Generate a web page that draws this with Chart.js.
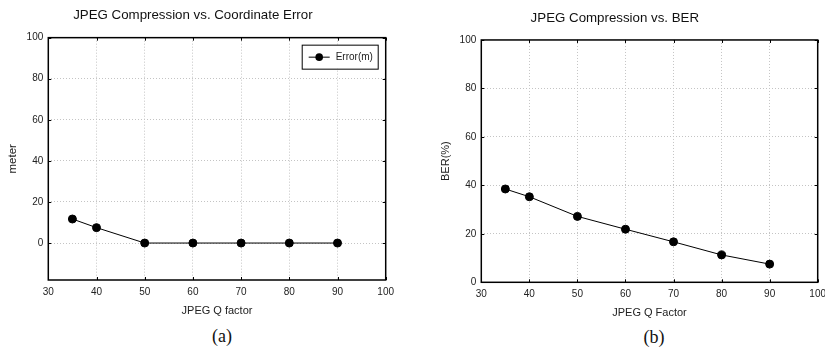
<!DOCTYPE html>
<html>
<head>
<meta charset="utf-8">
<script src="https://cdn.jsdelivr.net/npm/chart.js@4.4.1/dist/chart.umd.min.js"></script>
<style>
  html, body { margin: 0; padding: 0; background: #fff; overflow: hidden; }
  body { width: 825px; height: 347px; position: relative; }
  canvas { position: absolute; top: 0; }
  .cap { position: absolute; font-family: "Liberation Serif", "DejaVu Serif", serif; font-size: 18px; color: #111; transform: translate(-50%, -50%); }
</style>
</head>
<body>
<canvas id="errChart" width="412" height="322" style="left:0"></canvas>
<canvas id="berChart" width="425" height="322" style="left:412px"></canvas>
<div class="cap" style="left:222px; top:336px">(a)</div>
<div class="cap" style="left:654px; top:337px">(b)</div>
<script>
// values
const qFactors = [35, 40, 50, 60, 70, 80, 90];
const coordError = [11.7, 7.5, 0, 0, 0, 0, 0];
const berPercent = [38.5, 35.3, 27.2, 21.9, 16.7, 11.3, 7.5];
const xTicks = [30, 40, 50, 60, 70, 80, 90, 100];
const yTicks = [0, 20, 40, 60, 80, 100];

Chart.defaults.font.family = '"Liberation Sans", Arial, sans-serif';
Chart.defaults.color = '#222';

// black frame + small inward tick marks, gnuplot-ish
const framePlugin = {
  id: 'frame',
  afterDraw(chart) {
    const { ctx, chartArea: a, scales } = chart;
    ctx.save();
    ctx.strokeStyle = '#000';
    ctx.lineWidth = 1.5;
    ctx.strokeRect(a.left, a.top, a.right - a.left, a.bottom - a.top);
    ctx.lineWidth = 1;
    ctx.beginPath();
    xTicks.forEach(v => {
      const px = Math.round(scales.x.getPixelForValue(v)) + 0.5;
      ctx.moveTo(px, a.top); ctx.lineTo(px, a.top + 3);
      ctx.moveTo(px, a.bottom); ctx.lineTo(px, a.bottom - 3);
    });
    yTicks.forEach(v => {
      const py = Math.round(scales.y.getPixelForValue(v)) + 0.5;
      ctx.moveTo(a.left, py); ctx.lineTo(a.left + 3, py);
      ctx.moveTo(a.right, py); ctx.lineTo(a.right - 3, py);
    });
    ctx.stroke();
    ctx.restore();
  }
};

// boxed legend inside the plot, top right
const boxLegend = {
  id: 'boxLegend',
  afterDraw(chart, args, opts) {
    if (!opts.show) return;
    const { ctx, chartArea: a } = chart;
    const w = 76, h = 24;
    const x = a.right - 8 - w, y = a.top + 7;
    ctx.save();
    ctx.fillStyle = '#fff';
    ctx.fillRect(x, y, w, h);
    ctx.strokeStyle = '#000';
    ctx.lineWidth = 1;
    ctx.strokeRect(x + 0.5, y + 0.5, w, h);
    const cy = y + h / 2 + 0.5;
    ctx.beginPath();
    ctx.moveTo(x + 7, cy); ctx.lineTo(x + 28, cy);
    ctx.stroke();
    ctx.beginPath();
    ctx.arc(x + 17.5, cy, 3.8, 0, Math.PI * 2);
    ctx.fillStyle = '#000';
    ctx.fill();
    ctx.font = '10px "Liberation Sans", Arial, sans-serif';
    ctx.fillStyle = '#222';
    ctx.textBaseline = 'middle';
    ctx.fillText(chart.data.datasets[0].label, x + 34, cy);
    ctx.restore();
  }
};

function makeChart(id, cfg) {
  const points = qFactors.map((q, i) => ({ x: q, y: cfg.values[i] }));
  return new Chart(document.getElementById(id), {
    type: 'line',
    data: {
      datasets: [{
        label: cfg.label,
        data: points,
        borderColor: '#000',
        borderWidth: 1,
        backgroundColor: '#000',
        pointBackgroundColor: '#000',
        pointBorderColor: '#000',
        pointRadius: 4,
        tension: 0,
        clip: false
      }]
    },
    plugins: [framePlugin, boxLegend],
    options: {
      responsive: false,
      animation: false,
      layout: { padding: cfg.pad },
      scales: {
        x: {
          type: 'linear',
          min: 30, max: 100,
          afterBuildTicks: ax => { ax.ticks = xTicks.map(v => ({ value: v })); },
          afterFit: ax => { ax.height = cfg.xAxisH; },
          grid: {
            color: c => (c.tick && (c.tick.value === 30 || c.tick.value === 100)) ? 'rgba(0,0,0,0)' : '#c4c4c4',
            drawTicks: false
          },
          border: { display: false, dash: [1, 2] },
          ticks: { font: { size: 10 }, padding: 6, maxRotation: 0 },
          title: { display: true, text: cfg.xTitle, font: { size: 11 }, padding: { top: 0, bottom: cfg.xTitlePad } }
        },
        y: {
          min: cfg.yMin, max: 100,
          afterBuildTicks: ax => { ax.ticks = yTicks.map(v => ({ value: v })); },
          afterFit: ax => { ax.width = cfg.yAxisW; },
          grid: {
            color: c => (c.tick && c.tick.value === 100) ? 'rgba(0,0,0,0)' : '#c4c4c4',
            drawTicks: false
          },
          border: { display: false, dash: [1, 2] },
          ticks: { font: { size: 10 }, padding: 5 },
          title: { display: true, text: cfg.yTitle, font: { size: cfg.yTitleSize }, padding: { top: cfg.yTitlePad, bottom: 0 } }
        }
      },
      plugins: {
        legend: { display: false },
        tooltip: { enabled: false },
        boxLegend: { show: cfg.showLegend },
        title: {
          display: true,
          text: cfg.title,
          color: '#111',
          font: { size: 13.3, weight: 'normal' },
          padding: cfg.titlePad
        }
      }
    }
  });
}

makeChart('errChart', {
  values: coordError,
  label: 'Error(m)',
  title: 'JPEG Compression vs. Coordinate Error',
  xTitle: 'JPEG Q factor',
  yTitle: 'meter',
  yTitleSize: 11.5,
  yMin: -18,
  showLegend: true,
  pad: { left: 0, right: 26.3, top: 0, bottom: 0 },
  titlePad: { top: 7.7, bottom: 14 },
  xAxisH: 42, yAxisW: 48.3,
  xTitlePad: 4.4, yTitlePad: 6.4
});

makeChart('berChart', {
  values: berPercent,
  label: 'BER(%)',
  title: 'JPEG Compression vs. BER',
  xTitle: 'JPEG Q Factor',
  yTitle: 'BER(%)',
  yTitleSize: 11,
  yMin: 0,
  showLegend: false,
  pad: { left: 0, right: 19.3, top: 0, bottom: 0 },
  titlePad: { top: 10, bottom: 14 },
  xAxisH: 39.7, yAxisW: 69.3,
  xTitlePad: 2.4, yTitlePad: 27.4
});
</script>
</body>
</html>
